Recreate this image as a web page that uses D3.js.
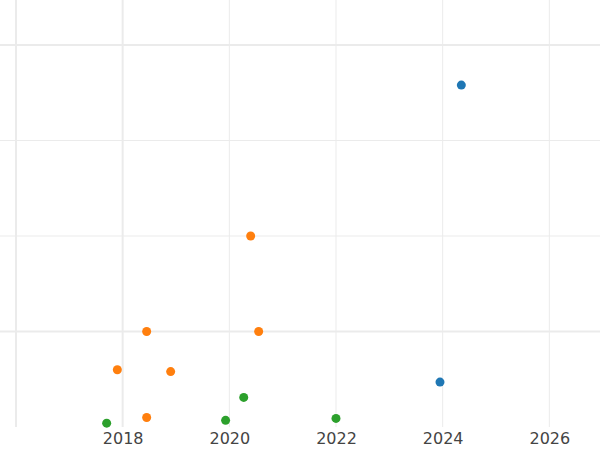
<!DOCTYPE html><html><head><meta charset="utf-8"><script src="https://cdn.jsdelivr.net/npm/d3@7"></script>
<style>body{margin:0;background:#fff}</style></head><body><svg width="600" height="450"></svg><script>
const blueX=[2024.35,2023.95], blueY=[3.58,0.47];
const orangeX=[2018.45,2020.4,2020.55,2017.9,2018.9,2018.45], orangeY=[1.0,2.0,1.0,0.6,0.58,0.1];
const greenX=[2017.7,2019.93,2020.27,2022.0], greenY=[0.04,0.07,0.31,0.09];
const xTicks=[2018,2020,2022,2024,2026];
const yGrid=[1,2,3,4];
const svg=d3.select("svg");
const x=d3.scaleLinear().domain([2016,2026.95]).range([16,600]);
const y=d3.scaleLinear().domain([0,4]).range([427,45]);
const g=svg.append("g");
[2016,...xTicks].forEach(v=>g.append("line").attr("x1",x(v)).attr("x2",x(v)).attr("y1",0).attr("y2",427)
 .attr("stroke","#ebebeb").attr("stroke-width",v<=2018?2:1));
yGrid.forEach(v=>g.append("line").attr("x1",0).attr("x2",600).attr("y1",y(v)).attr("y2",y(v))
 .attr("stroke","#ebebeb").attr("stroke-width",(v==1||v==4)?2:1));
svg.append("g").attr("transform","translate(0,427)").call(d3.axisBottom(x).tickValues(xTicks).tickFormat(d3.format("d")).tickSize(0).tickPadding(6))
 .call(a=>{a.select(".domain").remove();a.selectAll("text").attr("font-family","DejaVu Sans").attr("font-size",16).attr("fill","#444");});
[[blueX,blueY,"#1f77b4"],[orangeX,orangeY,"#ff7f0e"],[greenX,greenY,"#2ca02c"]].forEach(([xs,ys,c])=>{
 svg.append("g").selectAll("circle").data(xs).join("circle").attr("cx",d=>x(d)).attr("cy",(d,i)=>y(ys[i])).attr("r",4.5).attr("fill",c);
});
</script></body></html>
